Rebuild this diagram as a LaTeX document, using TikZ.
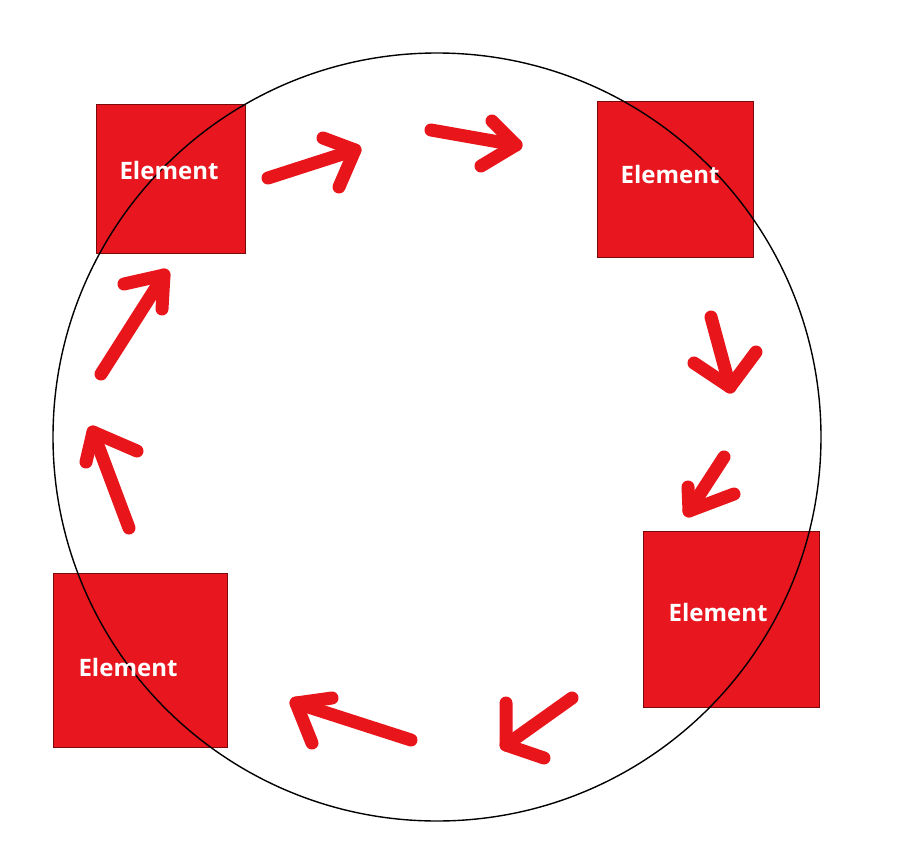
\documentclass[tikz,border=0pt]{standalone}
\usepackage{fontspec}
\setmainfont{Open Sans}
\definecolor{boxred}{HTML}{E8161E}
\definecolor{boxedge}{HTML}{7A0A0A}
\definecolor{arrred}{HTML}{E8151B}
\begin{document}
\begin{tikzpicture}[x=1pt,y=-1pt,
  elem/.style={draw=boxedge,line width=1pt,fill=boxred,minimum size=#1,inner sep=0pt},
  elemtext/.style={text=white,font=\bfseries\fontsize{24}{24}\selectfont,anchor=base,inner sep=0pt},
  redarrow/.style={draw=arrred,line width=13pt,line cap=round,line join=round}]
\useasboundingbox[fill=white] (0,0) rectangle (906,860);
% squares
\node[elem=149pt] (s1) at (170.5,178.5) {};
\node[elem=156pt] (s2) at (675,179) {};
\node[elem=176pt] (s3) at (731,619) {};
\node[elem=174pt] (s4) at (140,660) {};
% circle
\node[draw=black,line width=1.4pt,circle,minimum size=768pt,inner sep=0pt] (ring) at (437,437) {};
% labels
\node[elemtext] (t1) at (169,179) {Element};
\node[elemtext] (t2) at (670,183) {Element};
\node[elemtext] (t3) at (718,621) {Element};
\node[elemtext] (t4) at (128,676) {Element};
% arrows: tail, tip, arm1, arm2
\coordinate (a1t) at (268,178); \coordinate (a1p) at (355,150); \coordinate (a1a) at (323,138); \coordinate (a1b) at (339,187);
\coordinate (a2t) at (431,130); \coordinate (a2p) at (516,145); \coordinate (a2a) at (492,121); \coordinate (a2b) at (481,166);
\coordinate (a3t) at (711,317); \coordinate (a3p) at (730,387); \coordinate (a3a) at (694,363); \coordinate (a3b) at (756,352);
\coordinate (a4t) at (724,457); \coordinate (a4p) at (689,511); \coordinate (a4a) at (688,487); \coordinate (a4b) at (734,494);
\coordinate (a5t) at (572,698); \coordinate (a5p) at (506,745); \coordinate (a5a) at (506,703); \coordinate (a5b) at (544,758);
\coordinate (a6t) at (411,740); \coordinate (a6p) at (296,703); \coordinate (a6a) at (332,698); \coordinate (a6b) at (312,743);
\coordinate (a7t) at (129,528); \coordinate (a7p) at (93,432); \coordinate (a7a) at (86,462); \coordinate (a7b) at (137,451);
\coordinate (a8t) at (101,374); \coordinate (a8p) at (164,275); \coordinate (a8a) at (124,284); \coordinate (a8b) at (162,309);
\foreach \i in {1,...,8}{
  \draw[redarrow] (a\i t) -- (a\i p);
  \draw[redarrow] (a\i a) -- (a\i p) -- (a\i b);
}
\end{tikzpicture}
\end{document}
